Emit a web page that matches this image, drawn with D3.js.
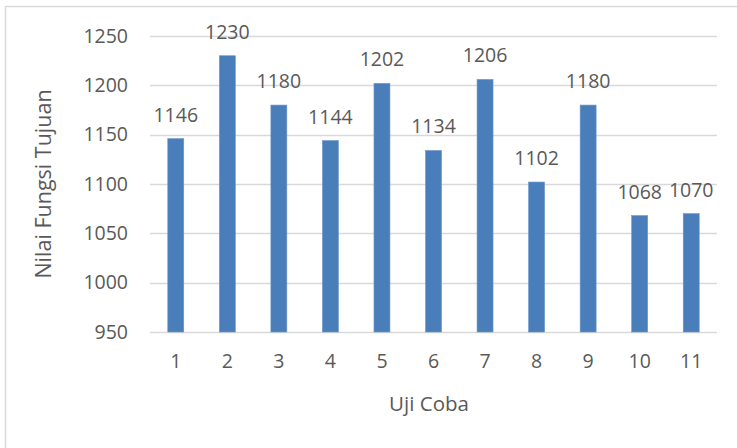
<!DOCTYPE html>
<html>
<head>
<meta charset="utf-8">
<script src="https://cdn.jsdelivr.net/npm/d3@7"></script>
<style>
  html, body { margin: 0; padding: 0; background: #fff; }
  text { font-family: "Open Sans", "Noto Sans", sans-serif; fill: #595959; }
</style>
</head>
<body>
<svg id="chart" width="737" height="448"></svg>
<script>
// Trial numbers and objective function values
const categories = ["1", "2", "3", "4", "5", "6", "7", "8", "9", "10", "11"];
const values = [1146, 1230, 1180, 1144, 1202, 1134, 1206, 1102, 1180, 1068, 1070];
const yTicks = [950, 1000, 1050, 1100, 1150, 1200, 1250];
const xTitle = "Uji Coba";
const yTitle = "Nilai Fungsi Tujuan";

const svg = d3.select("#chart");
const W = 737, H = 448;

// chart frame (top and left edges)
svg.append("path")
  .attr("d", `M5.5,${H} V6.5 H${W}`)
  .attr("fill", "none")
  .attr("stroke", "#d9d9d9")
  .attr("stroke-width", 1.5);

const plot = { left: 150, right: 717, top: 36, bottom: 332 };

const x = d3.scaleBand()
  .domain(categories)
  .range([plot.left, plot.right])
  .paddingInner(0.69)
  .paddingOuter(0.345);

const y = d3.scaleLinear()
  .domain([950, 1250])
  .range([plot.bottom, plot.top]);

// gridlines
svg.append("g")
  .selectAll("line")
  .data(yTicks)
  .join("line")
  .attr("x1", plot.left)
  .attr("x2", plot.right)
  .attr("y1", d => Math.round(y(d)) + 0.5)
  .attr("y2", d => Math.round(y(d)) + 0.5)
  .attr("stroke", "#d9d9d9")
  .attr("stroke-width", 1.5);

// y axis labels
const yAxis = d3.axisLeft(y).tickValues(yTicks).tickFormat(d3.format("d")).tickSize(0).tickPadding(22);
svg.append("g")
  .attr("transform", `translate(${plot.left},0)`)
  .call(yAxis)
  .call(g => g.select(".domain").remove())
  .call(g => g.selectAll("text")
    .style("font-family", "'Open Sans', sans-serif")
    .style("font-size", "19.5px")
    .attr("fill", "#595959"));

// x axis labels
const xAxis = d3.axisBottom(x).tickSize(0).tickPadding(22);
svg.append("g")
  .attr("transform", `translate(0,${plot.bottom})`)
  .call(xAxis)
  .call(g => g.select(".domain").remove())
  .call(g => g.selectAll("text")
    .style("font-family", "'Open Sans', sans-serif")
    .style("font-size", "19.5px")
    .attr("fill", "#595959"));

// bars
svg.append("g")
  .selectAll("rect")
  .data(values)
  .join("rect")
  .attr("x", (d, i) => x(categories[i]))
  .attr("width", x.bandwidth())
  .attr("y", d => y(d))
  .attr("height", d => plot.bottom - y(d))
  .attr("fill", "#4a7ebb")
  .attr("stroke", "#6a96cc")
  .attr("stroke-width", 0.6);

// value labels
svg.append("g")
  .selectAll("text")
  .data(values)
  .join("text")
  .attr("x", (d, i) => x(categories[i]) + x.bandwidth() / 2)
  .attr("y", d => y(d) - 17)
  .attr("text-anchor", "middle")
  .style("font-size", "19.5px")
  .text(d => d);

// axis titles
svg.append("text")
  .attr("x", 429)
  .attr("y", 411)
  .attr("text-anchor", "middle")
  .style("font-size", "20.5px")
  .text(xTitle);

svg.append("text")
  .attr("transform", `translate(51,${(plot.top + plot.bottom) / 2}) rotate(-90)`)
  .attr("text-anchor", "middle")
  .style("font-size", "21.5px")
  .text(yTitle);
</script>
</body>
</html>
